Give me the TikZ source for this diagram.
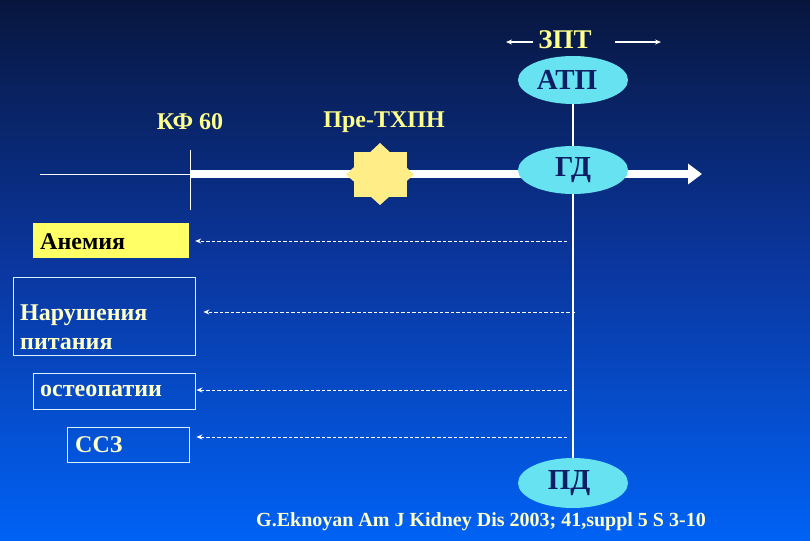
\documentclass[tikz,border=0pt]{standalone}
\usepackage{fontspec}
\setmainfont{Liberation Serif}
\usetikzlibrary{shapes.geometric,arrows.meta}
\definecolor{bgtop}{RGB}{8,22,62}
\definecolor{bgmid}{RGB}{10,55,160}
\definecolor{bgbot}{RGB}{0,98,245}
\definecolor{lbl}{RGB}{255,255,140}
\definecolor{boxtxt}{RGB}{255,255,200}
\definecolor{ell}{RGB}{102,226,240}
\definecolor{elltxt}{RGB}{15,30,100}
\definecolor{anem}{RGB}{255,255,102}
\definecolor{starc}{RGB}{255,238,136}
\begin{document}
\begin{tikzpicture}[x=1pt,y=-1pt,
  lab/.style={text=lbl,inner sep=0pt,font=\fontsize{24}{28}\selectfont\bfseries},
  ellnode/.style={ellipse,fill=ell,inner sep=0pt,minimum width=110pt,minimum height=48pt,
     text=elltxt,font=\fontsize{29}{32}\selectfont\bfseries},
  boxnode/.style={draw=white!85!cyan,line width=0.8pt,inner sep=0pt},
  boxtext/.style={text=boxtxt,inner sep=0pt,anchor=west,font=\fontsize{24}{29}\selectfont\bfseries},
  dasharrow/.style={white,line width=1pt,dash pattern=on 3.5pt off 2pt,-{Stealth[length=6pt,width=5pt]}},
  thinarrow/.style={white,line width=1.3pt,-{Stealth[length=6pt,width=5pt]}}]
% background
\shade[top color=bgtop,bottom color=bgbot,middle color=bgmid] (0,0) rectangle (810,540);
\useasboundingbox (0,0) rectangle (810,540);

% top label with arrows
\node[lab,font=\fontsize{27}{30}\selectfont\bfseries] (zpt) at (565,40) {ЗПТ};
\coordinate (zl1) at (533,42);
\coordinate (zl2) at (506,42);
\coordinate (zr1) at (615,42);
\coordinate (zr2) at (661,42);
\draw[thinarrow] (zl1) -- (zl2);
\draw[thinarrow] (zr1) -- (zr2);

% vertical line
\coordinate (vtop) at (573,100);
\coordinate (vbot) at (573,462);
\draw[white,line width=2pt] (vtop) -- (vbot);

% main axis
\coordinate (a0) at (40,174);
\coordinate (a1) at (190,174);
\coordinate (a2) at (702,174);
\coordinate (t1) at (190,150);
\coordinate (t2) at (190,210);
\draw[white,line width=0.9pt] (a0) -- (a1);
\draw[white,line width=0.9pt] (t1) -- (t2);
\draw[white,line width=7pt,-{Triangle[length=14pt,width=20pt]}] (a1) -- (a2);

% star
\fill[starc] (354,152) rectangle (407,197);
\fill[starc] (380,143) -- (414,174.5) -- (380,205) -- (346,174.5) -- cycle;

\node[ellnode] (atp) at (573,80) {\hspace*{-12pt}АТП};
\node[ellnode] (gd) at (573,170) {ГД};
\node[ellnode,minimum height=50pt] (pd) at (573,483) {\hspace*{-8pt}ПД};

% labels
\node[lab] (kf) at (190,122) {КФ 60};
\node[lab] (pre) at (384,122) {Пре-ТХПН};

% boxes
\node[fill=anem,inner sep=0pt,minimum width=156pt,minimum height=35pt] (anemia) at (111,240.5) {};
\node[anchor=west,inner sep=0pt,text=black,font=\fontsize{24}{29}\selectfont\bfseries] (anemiat) at (40,242) {Анемия};

\node[boxnode,minimum width=182pt,minimum height=78pt] (nutr) at (104,316) {};
\node[boxtext,align=left] (nutrt) at (20,327) {Нарушения\\питания};

\node[boxnode,minimum width=162pt,minimum height=36pt] (osteo) at (114,391) {};
\node[boxtext] (osteot) at (40,391) {остеопатии};

\node[boxnode,minimum width=122pt,minimum height=35pt] (ccz) at (128,444.5) {};
\node[boxtext] (cczt) at (75,445) {ССЗ};

% dashed arrows
\coordinate (d1) at (567,241);
\coordinate (d2) at (575,312);
\coordinate (d3) at (567,390);
\coordinate (d4) at (567,437);
\draw[dasharrow,shorten >=6pt] (d1) -- (d1 -| anemia.east);
\draw[dasharrow,shorten >=8pt] (d2) -- (d2 -| nutr.east);
\draw[dasharrow,shorten >=1pt] (d3) -- (d3 -| osteo.east);
\draw[dasharrow,shorten >=7pt] (d4) -- (d4 -| ccz.east);

% citation
\node[text=boxtxt,inner sep=0pt,font=\fontsize{20}{24}\selectfont\bfseries] (cite) at (481,522) {G.Eknoyan Am J Kidney Dis 2003; 41,suppl 5 S 3-10};
\end{tikzpicture}
\end{document}
